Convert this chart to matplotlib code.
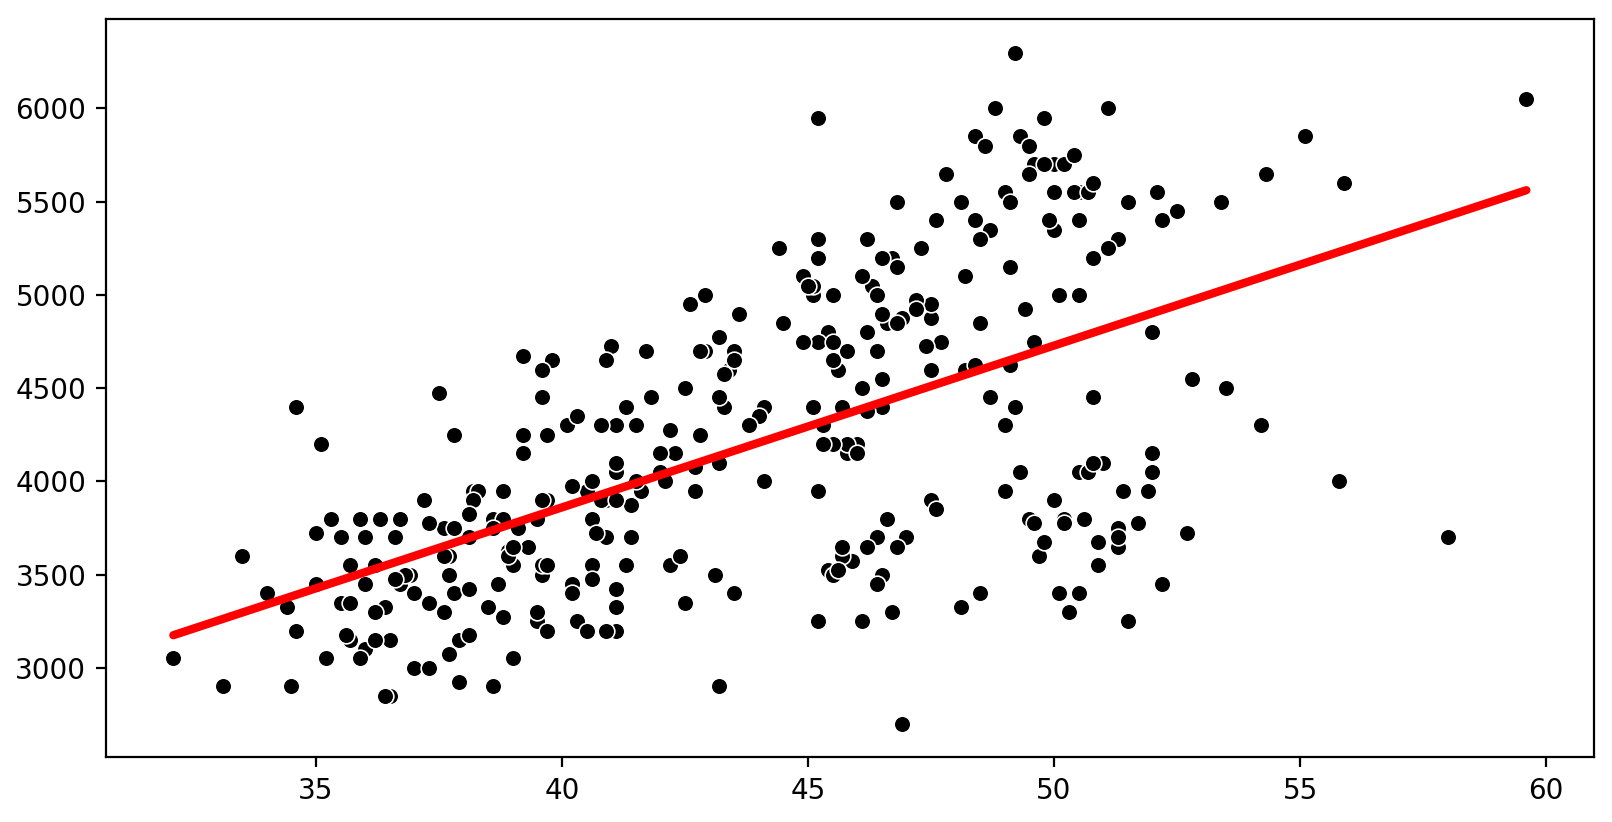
import numpy as np
import matplotlib
matplotlib.use("Agg")
import matplotlib.pyplot as plt

adelie_bill = [39.1,39.5,40.3,36.7,39.3,38.9,39.2,41.1,38.6,34.6,36.6,38.7,42.5,34.4,46.0,
37.8,37.7,35.9,38.2,38.8,35.3,40.6,40.5,37.9,40.5,
39.5,37.2,39.5,40.9,36.4,39.2,38.8,42.2,37.6,39.8,36.5,40.8,36.0,44.1,37.0,39.6,41.1,36.0,42.3,
39.6,40.1,35.0,42.0,34.5,41.4,39.0,40.6,36.5,37.6,35.7,41.3,37.6,41.1,36.4,41.6,35.5,41.1,
35.9,41.8,33.5,39.7,39.6,45.8,35.5,42.8,40.9,37.2,36.2,42.1,34.6,42.9,36.7,35.1,
37.3,41.3,36.3,36.9,38.3,38.9,35.7,41.1,34.0,39.6,36.2,40.8,38.1,40.3,33.1,43.2,
35.0,41.0,37.7,37.8,37.9,39.7,38.6,38.2,38.1,43.2,38.1,45.6,39.7,42.2,39.6,42.7,
38.6,37.3,35.7,41.1,36.2,37.7,40.2,41.4,35.2,40.6,38.8,41.5,39.0,44.1,38.5,43.1,
36.8,37.5,38.1,41.1,35.6,40.2,37.0,39.7,40.2,40.6,32.1,40.7,37.3,39.0,39.2,36.6,36.0,37.8,36.0,41.5]
adelie_mass = [3750,3800,3250,3450,3650,3625,4675,3200,3800,4400,3700,3450,4500,3325,4200,
3400,3600,3800,3950,3800,3800,3550,3200,3150,3950,
3250,3900,3300,3900,3325,4150,3950,3550,3300,4650,3150,3900,3100,4400,3000,4600,3425,3450,4150,
3500,4300,3450,4050,2900,3700,3550,3800,2850,3750,3150,4400,3600,4050,2850,3950,3350,4100,
3050,4450,3600,3900,3550,4150,3700,4250,3700,3900,3550,4000,3200,4700,3800,4200,
3350,3550,3800,3500,3950,3600,3550,4300,3400,4450,3300,4300,3700,4350,2900,4100,
3725,4725,3075,4250,2925,3550,3750,3900,3175,4775,3825,4600,3200,4275,3900,4075,
2900,3775,3350,3325,3150,3500,3450,3875,3050,4000,3275,4300,3050,4000,3325,3500,
3500,4475,3425,3900,3175,3975,3400,4250,3400,3475,3050,3725,3000,3650,4250,3475,3450,3750,3700,4000]

gentoo_bill = [46.1,50.0,48.7,50.0,47.6,46.5,45.4,46.7,43.3,46.8,40.9,49.0,45.5,48.4,45.8,49.3,42.0,49.2,46.2,48.7,
50.2,45.1,46.5,46.3,42.9,46.1,47.8,48.2,50.0,47.3,42.8,45.1,59.6,49.1,48.4,42.6,44.4,44.0,48.7,
42.7,49.6,45.3,49.6,50.5,43.6,45.5,50.5,44.9,45.2,46.6,48.5,45.1,50.1,46.5,45.0,43.8,45.5,43.2,50.4,
45.3,46.2,45.7,54.3,45.8,49.8,49.5,43.5,50.7,47.7,46.4,48.2,46.5,46.4,48.6,47.5,51.1,45.2,45.2,
49.1,52.5,47.4,50.0,44.9,50.8,43.4,51.3,47.5,52.1,47.5,52.2,45.5,49.5,44.5,50.8,49.4,46.9,48.4,51.1,
48.5,55.9,47.2,49.1,46.8,41.7,53.4,43.3,48.1,50.5,49.8,43.5,51.5,46.2,55.1,48.8,47.2,
46.8,50.4,45.2,49.9]
gentoo_mass = [4500,5700,4450,5700,5400,4550,4800,5200,4400,5150,4650,5550,4650,5850,4200,5850,4150,6300,4800,5350,
5700,5000,4400,5050,5000,5100,5650,4600,5550,5250,4700,5050,6050,5150,5400,4950,5250,4350,5350,
3950,5700,4300,4750,5550,4900,4200,5400,5100,5300,4850,5300,4400,5000,4900,5050,4300,5000,4450,5550,
4200,5300,4400,5650,4700,5700,5800,4700,5550,4750,5000,5100,5200,4700,5800,4600,6000,4750,5950,
4625,5450,4725,5350,4750,5600,4600,5300,4875,5550,4950,5400,4750,5650,4850,5200,4925,4875,4625,5250,
4850,5600,4975,5500,5500,4700,5500,4575,5500,5000,5950,4650,5500,4375,5850,6000,4925,
4850,5750,5200,5400]

chinstrap_bill = [46.5,50.0,51.3,45.4,52.7,45.2,46.1,51.3,46.0,51.3,46.6,51.7,47.0,52.0,45.9,50.5,50.3,58.0,46.4,49.2,
42.4,48.5,43.2,50.6,46.7,52.0,50.5,49.5,46.4,52.8,40.9,54.2,42.5,51.0,49.7,47.5,47.6,52.0,46.9,53.5,
49.0,46.2,50.9,45.5,50.9,50.8,50.1,49.0,51.5,49.8,48.1,51.4,45.7,50.7,42.5,52.2,45.2,49.3,50.2,45.6,
51.9,46.8,45.7,55.8,43.5,49.6,50.8,50.2]
chinstrap_mass = [3500,3900,3650,3525,3725,3950,3250,3750,4150,3700,3800,3775,3700,4050,3575,4050,3300,3700,3450,4400,
3600,3400,2900,3800,3300,4150,3400,3800,3700,4550,3200,4300,3350,4100,3600,3900,3850,4800,2700,4500,
3950,3650,3550,3500,3675,4450,3400,4300,3250,3675,3325,3950,3600,4050,3350,3450,3250,4050,3800,3525,
3950,3650,3650,4000,3400,3775,4100,3775]

x = np.array(adelie_bill + gentoo_bill + chinstrap_bill)
y = np.array(adelie_mass + gentoo_mass + chinstrap_mass)

fig = plt.figure(figsize=(8.06, 4.11), dpi=200)
ax = fig.add_axes([105.7/1612, 64.7/822, (1594-105.7)/1612, (757.3-19)/822])

ax.scatter(x, y, s=36, c="black", edgecolors="white", linewidths=0.6, zorder=2)

m, b = np.polyfit(x, y, 1)
xs = np.sort(x)
ax.plot(xs, m * xs + b, color="red", linewidth=3, solid_capstyle="round", zorder=3)

fig.savefig("out.png", dpi=200)
